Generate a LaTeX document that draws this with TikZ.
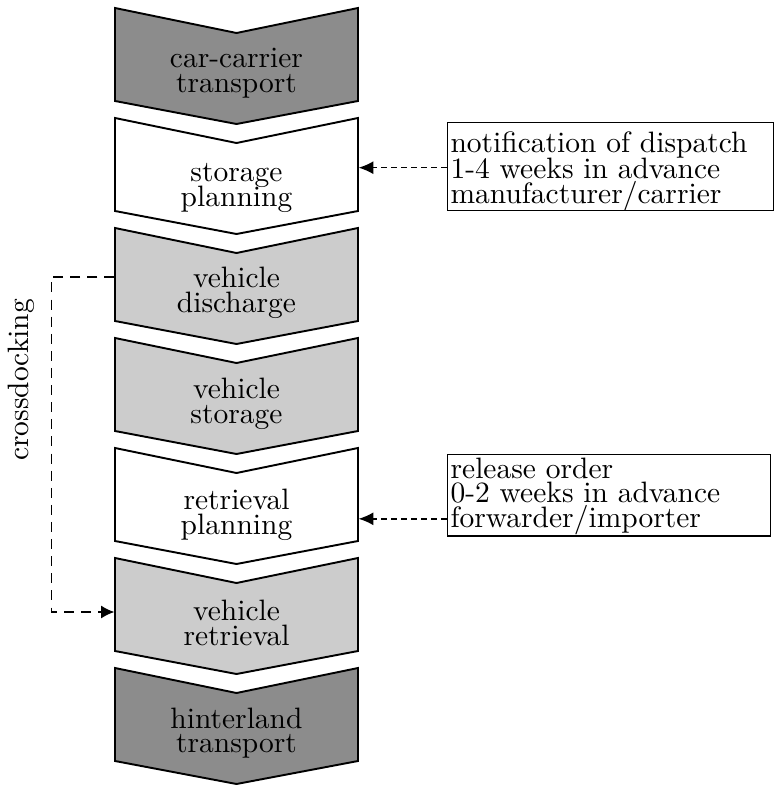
\documentclass[tikz,border=0pt]{standalone}
\usetikzlibrary{arrows.meta}

\definecolor{stagedark}{gray}{0.55}
\definecolor{stagelight}{gray}{0.80}

\tikzset{
  textfont/.style={font={\fontsize{10pt}{8.3pt}\selectfont\lineskiplimit=-100pt\lineskip=0pt}},
  stageshape/.style={draw=black, line width=0.65pt, line join=miter},
  stagetext/.style={textfont, align=center, minimum width=82.4pt, inner sep=0pt},
  infobox/.style={draw=black, line width=0.5pt, anchor=north west, inner sep=0pt},
  infotext/.style={textfont, anchor=north west, align=left, inner sep=0pt},
  infoarrow/.style={line width=0.5pt, dash pattern=on 2pt off 1.4pt,
                    -{Latex[length=5pt,width=4.4pt]}},
  crossarrow/.style={line width=0.5pt, dash pattern=on 3.4pt off 2.4pt,
                     -{Latex[length=4.5pt,width=4.4pt]}}
}

% one downward chevron: name, top edge, fill colour, label, label centre below top
\newcommand{\chevronstage}[5]{%
  \draw[stageshape, fill=#3] (115,#2) -- (236.5,#2+25) -- (358,#2)
     -- (358,#2+93) -- (236.5,#2+116) -- (115,#2+93) -- cycle;
  \node[stagetext] (#1) at (236.5,#2+#5) {#4};
}

\begin{document}
\begin{tikzpicture}[x=0.339pt, y=-0.339pt]
  \useasboundingbox (0,0) rectangle (774,787);

  \chevronstage{carrier}{8}{stagedark}{car-carrier\\transport}{65}
  \chevronstage{splan}{118}{white}{storage\\planning}{70}
  \chevronstage{discharge}{228}{stagelight}{vehicle\\discharge}{65}
  \chevronstage{vstore}{338}{stagelight}{vehicle\\storage}{66}
  \chevronstage{rplan}{448}{white}{retrieval\\planning}{67}
  \chevronstage{retrieve}{558}{stagelight}{vehicle\\retrieval}{65}
  \chevronstage{hinter}{668}{stagedark}{hinterland\\transport}{65}

  % information inputs on the right
  \node[infobox, minimum width=110.5pt, minimum height=29.8pt] (dispatch) at (447,122) {};
  \node[infotext, font={\fontsize{10pt}{8.65pt}\selectfont\lineskiplimit=-100pt\lineskip=0pt}]
    (dispatchtext) at (450,131.5)
    {notification of dispatch\\1-4 weeks in advance\\manufacturer/carrier};
  \node[infobox, minimum width=109.5pt, minimum height=27.5pt] (release) at (447,454) {};
  \node[infotext, font={\fontsize{10pt}{8.4pt}\selectfont\lineskiplimit=-100pt\lineskip=0pt}]
    (releasetext) at (450,457)
    {release order\\0-2 weeks in advance\\forwarder/importer};

  \draw[infoarrow] ([yshift=-0.34pt]dispatch.west) -- ([yshift=-0.34pt]dispatch.west -| splan.east);
  \draw[infoarrow] ([yshift=-7.97pt]release.west) -- ([yshift=-7.97pt]release.west -| rplan.east);

  % crossdocking bypass on the left
  \node[textfont, rotate=90, inner sep=0pt] (cross) at (21,380) {crossdocking};
  \draw[crossarrow] ([yshift=5.42pt]discharge.west) -- ++(-63,0)
    |- ([yshift=3.73pt]retrieve.west);
\end{tikzpicture}
\end{document}
